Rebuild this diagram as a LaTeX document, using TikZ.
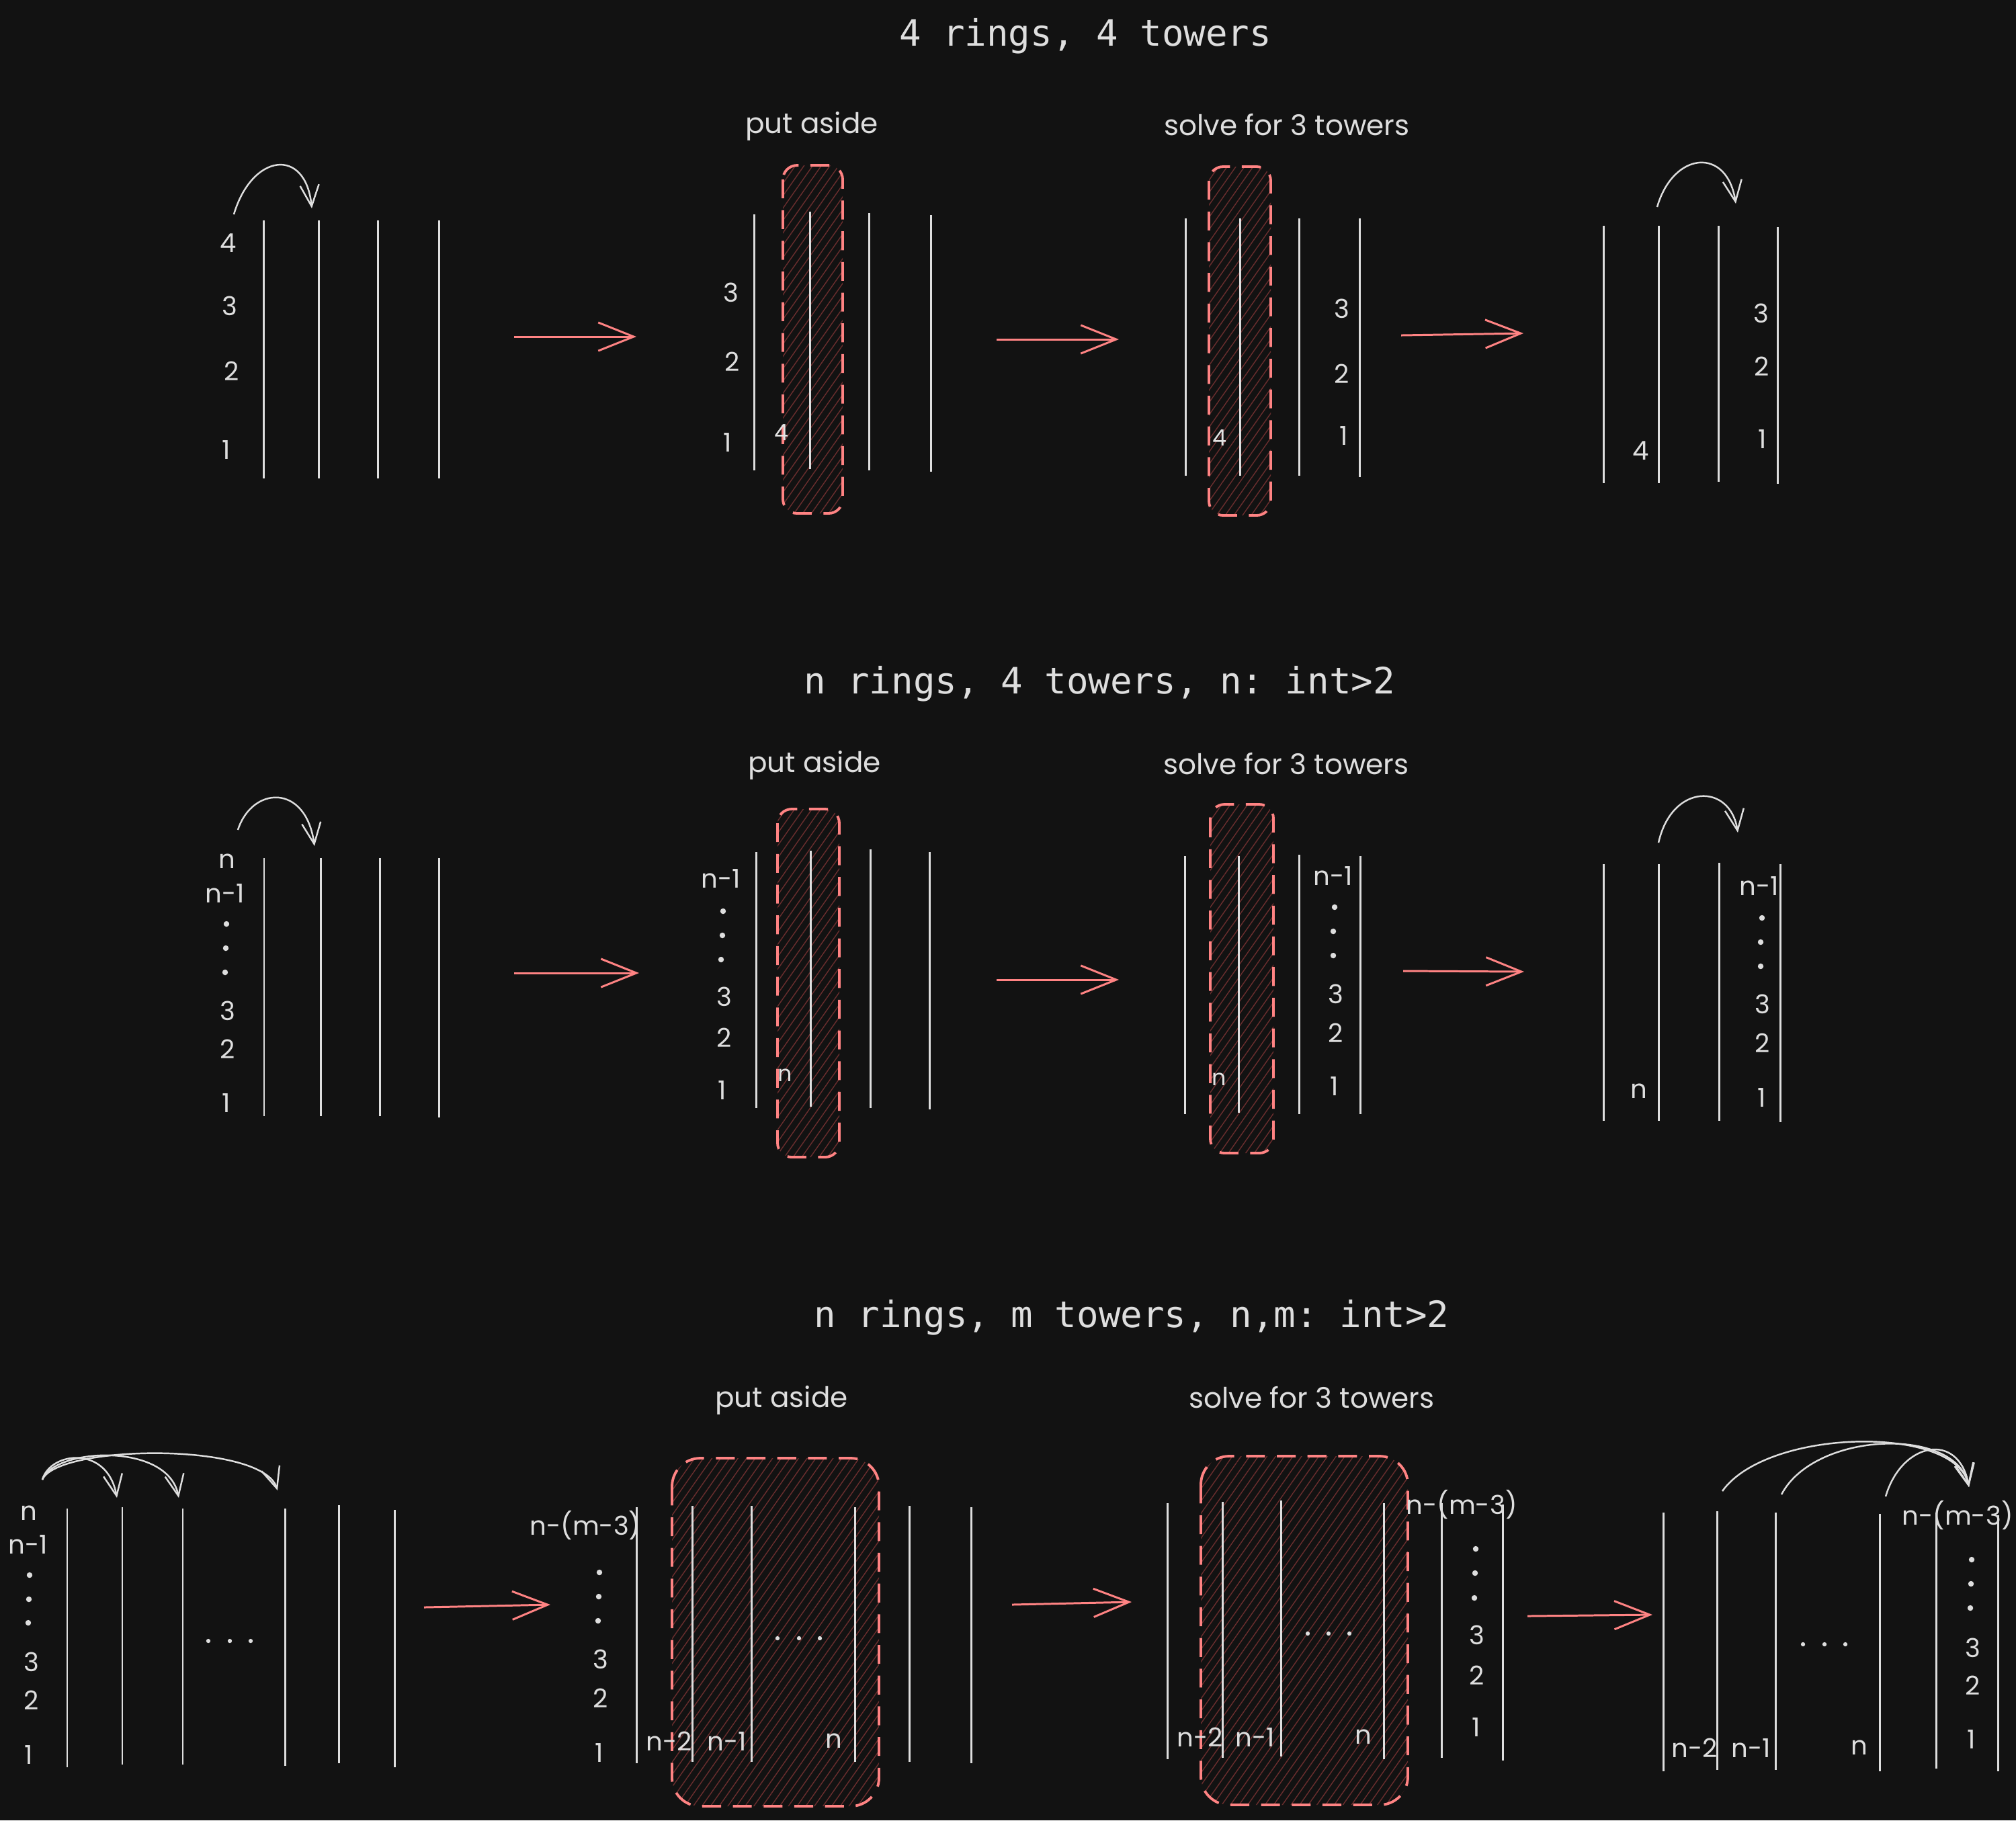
\documentclass[tikz,border=0pt]{standalone}
\usepackage{xcolor}
\usepackage{fontspec}
\setmonofont{DejaVu Sans Mono}
\newfontfamily\handfont{Poppins}
\usepackage{tikz}
\usetikzlibrary{arrows.meta, patterns.meta}

\definecolor{bgdark}{HTML}{121212}
\definecolor{ink}{HTML}{DEDEDE}
\definecolor{penred}{HTML}{FF8383}
\definecolor{hatchred}{HTML}{6A2E2E}

\begin{document}
\begin{tikzpicture}[
    x=1cm, y=-1cm, % 1 unit = 100px, y runs downwards
    title/.style={font=\ttfamily\fontsize{15.4}{18}\selectfont, text=ink, inner sep=0pt},
    caption/.style={font=\handfont\fontsize{12}{14}\selectfont, text=ink, inner sep=0pt},
    ring/.style={font=\handfont\fontsize{11}{13}\selectfont, text=ink, inner sep=0pt},
    ringin/.style={font=\handfont\fontsize{9.5}{11}\selectfont, text=ink!85, inner sep=0pt},
    ringdot/.style={circle, fill=ink, draw=none, inner sep=0pt, minimum size=2.4pt},
    gapdot/.style={circle, fill=ink, draw=none, inner sep=0pt, minimum size=1.8pt},
    tower/.style={draw=ink, line width=0.85pt},
    aside/.style={draw=penred, line width=1.1pt, dash pattern=on 8pt off 5pt,
        pattern={Lines[angle=55, distance=3pt, line width=0.4pt]}, pattern color=hatchred},
    move/.style={draw=penred, line width=0.85pt, -{Straight Barb[length=15pt, width=12pt]}},
    hop/.style={draw=ink, line width=0.7pt, -{Straight Barb[length=9pt, width=8pt]}}
]
\useasboundingbox (0,0) rectangle (30,27.09);
\fill[bgdark] (0,0) rectangle (30,27.09);

% ---------------- 4 rings, 4 towers
\node[title] (title-a) at (16.15,0.54) {4 rings, 4 towers};
\node[caption] (aside-a) at (12.08,1.88) {put aside};
\node[caption] (solve-a) at (19.15,1.86) {solve for 3 towers};

\draw[aside, rounded corners=6pt] (11.65,2.46) rectangle (12.54,7.64);
\draw[aside, rounded corners=6pt] (17.99,2.48) rectangle (18.91,7.67);

\draw[tower] (3.92,3.28) -- (3.92,7.12);
\draw[tower] (4.74,3.28) -- (4.74,7.12);
\draw[tower] (5.62,3.28) -- (5.62,7.12);
\draw[tower] (6.53,3.28) -- (6.53,7.12);
\draw[tower] (11.22,3.19) -- (11.22,7.00);
\draw[tower] (12.05,3.15) -- (12.05,6.98);
\draw[tower] (12.93,3.17) -- (12.93,7.00);
\draw[tower] (13.85,3.20) -- (13.85,7.02);
\draw[tower] (17.64,3.25) -- (17.64,7.08);
\draw[tower] (18.45,3.25) -- (18.45,7.08);
\draw[tower] (19.33,3.25) -- (19.33,7.08);
\draw[tower] (20.23,3.25) -- (20.23,7.10);
\draw[tower] (23.86,3.36) -- (23.86,7.19);
\draw[tower] (24.68,3.36) -- (24.68,7.19);
\draw[tower] (25.57,3.36) -- (25.57,7.17);
\draw[tower] (26.45,3.38) -- (26.45,7.20);

\node[ring] (a1-4) at (3.40,3.62) {4};
\node[ring] (a1-3) at (3.42,4.55) {3};
\node[ring] (a1-2) at (3.45,5.52) {2};
\node[ring] (a1-1) at (3.37,6.69) {1};
\node[ring] (a2-3) at (10.88,4.35) {3};
\node[ring] (a2-2) at (10.90,5.38) {2};
\node[ring] (a2-1) at (10.83,6.58) {1};
\node[ringin] (a2-4) at (11.63,6.44) {4};
\node[ring] (a3-3) at (19.97,4.59) {3};
\node[ring] (a3-2) at (19.97,5.56) {2};
\node[ring] (a3-1) at (20.00,6.48) {1};
\node[ringin] (a3-4) at (18.15,6.52) {4};
\node[ring] (a4-3) at (26.21,4.66) {3};
\node[ring] (a4-2) at (26.22,5.45) {2};
\node[ring] (a4-1) at (26.23,6.53) {1};
\node[ring] (a4-4) at (24.42,6.71) {4};

\coordinate (a-go1) at (7.65,5.01);  \coordinate (a-to1) at (9.47,5.01);
\coordinate (a-go2) at (14.83,5.05); \coordinate (a-to2) at (16.65,5.05);
\coordinate (a-go3) at (20.85,4.99); \coordinate (a-to3) at (22.67,4.96);
\coordinate (a-lift) at (3.48,3.19);   \coordinate (a-drop) at (4.64,3.10);
\coordinate (a-lift2) at (24.66,3.08); \coordinate (a-drop2) at (25.83,3.03);

% Edges
\draw[move] (a-go1) -- (a-to1);
\draw[move] (a-go2) -- (a-to2);
\draw[move] (a-go3) -- (a-to3);
\draw[hop] (a-lift) .. controls (3.75,2.28) and (4.55,2.18) .. (a-drop);
\draw[hop] (a-lift2) .. controls (24.90,2.25) and (25.70,2.18) .. (a-drop2);

% ---------------- n rings, 4 towers
\node[title] (title-b) at (16.36,10.18) {n rings, 4 towers, n: int>2};
\node[caption] (aside-b) at (12.12,11.39) {put aside};
\node[caption] (solve-b) at (19.14,11.37) {solve for 3 towers};

\draw[aside, rounded corners=6pt] (11.57,12.04) rectangle (12.49,17.22);
\draw[aside, rounded corners=6pt] (18.01,11.97) rectangle (18.95,17.16);

\draw[tower] (3.93,12.77) -- (3.93,16.61);
\draw[tower] (4.77,12.77) -- (4.77,16.61);
\draw[tower] (5.65,12.77) -- (5.65,16.61);
\draw[tower] (6.53,12.77) -- (6.53,16.63);
\draw[tower] (11.25,12.68) -- (11.25,16.49);
\draw[tower] (12.06,12.66) -- (12.06,16.47);
\draw[tower] (12.95,12.64) -- (12.95,16.49);
\draw[tower] (13.83,12.68) -- (13.83,16.51);
\draw[tower] (17.63,12.74) -- (17.63,16.58);
\draw[tower] (18.43,12.74) -- (18.43,16.56);
\draw[tower] (19.33,12.72) -- (19.33,16.58);
\draw[tower] (20.24,12.74) -- (20.24,16.58);
\draw[tower] (23.86,12.86) -- (23.86,16.68);
\draw[tower] (24.68,12.86) -- (24.68,16.68);
\draw[tower] (25.58,12.84) -- (25.58,16.68);
\draw[tower] (26.49,12.86) -- (26.49,16.70);

\node[ring] (b1-n) at (3.38,12.82) {n};
\node[ring] (b1-n1) at (3.35,13.29) {n-1};
\node[ringdot] (b1-d1) at (3.37,13.75) {};
\node[ringdot] (b1-d2) at (3.36,14.11) {};
\node[ringdot] (b1-d3) at (3.35,14.47) {};
\node[ring] (b1-3) at (3.39,15.04) {3};
\node[ring] (b1-2) at (3.39,15.61) {2};
\node[ring] (b1-1) at (3.37,16.41) {1};
\node[ring] (b2-n1) at (10.73,13.07) {n-1};
\node[ringdot] (b2-d1) at (10.76,13.56) {};
\node[ringdot] (b2-d2) at (10.75,13.92) {};
\node[ringdot] (b2-d3) at (10.73,14.28) {};
\node[ring] (b2-3) at (10.78,14.83) {3};
\node[ring] (b2-2) at (10.78,15.44) {2};
\node[ring] (b2-1) at (10.75,16.22) {1};
\node[ringin] (b2-n) at (11.68,16.00) {n};
\node[ring] (b3-n1) at (19.84,13.03) {n-1};
\node[ringdot] (b3-d1) at (19.86,13.50) {};
\node[ringdot] (b3-d2) at (19.84,13.86) {};
\node[ringdot] (b3-d3) at (19.84,14.22) {};
\node[ring] (b3-3) at (19.88,14.79) {3};
\node[ring] (b3-2) at (19.88,15.37) {2};
\node[ring] (b3-1) at (19.86,16.16) {1};
\node[ringin] (b3-n) at (18.14,16.06) {n};
\node[ring] (b4-n1) at (26.18,13.18) {n-1};
\node[ringdot] (b4-d1) at (26.22,13.66) {};
\node[ringdot] (b4-d2) at (26.20,14.02) {};
\node[ringdot] (b4-d3) at (26.20,14.38) {};
\node[ring] (b4-3) at (26.23,14.94) {3};
\node[ring] (b4-2) at (26.23,15.52) {2};
\node[ring] (b4-1) at (26.22,16.33) {1};
\node[ring] (b4-n) at (24.39,16.24) {n};

\coordinate (b-go1) at (7.65,14.48);  \coordinate (b-to1) at (9.51,14.48);
\coordinate (b-go2) at (14.83,14.58); \coordinate (b-to2) at (16.65,14.58);
\coordinate (b-go3) at (20.88,14.45); \coordinate (b-to3) at (22.68,14.46);
\coordinate (b-lift) at (3.54,12.35);   \coordinate (b-drop) at (4.68,12.59);
\coordinate (b-lift2) at (24.68,12.54); \coordinate (b-drop2) at (25.86,12.39);

% Edges
\draw[move] (b-go1) -- (b-to1);
\draw[move] (b-go2) -- (b-to2);
\draw[move] (b-go3) -- (b-to3);
\draw[hop] (b-lift) .. controls (3.75,11.70) and (4.55,11.65) .. (b-drop);
\draw[hop] (b-lift2) .. controls (24.88,11.65) and (25.75,11.65) .. (b-drop2);

% ---------------- n rings, m towers
\node[title] (title-c) at (16.84,19.61) {n rings, m towers, n,m: int>2};
\node[caption] (aside-c) at (11.63,20.84) {put aside};
\node[caption] (solve-c) at (19.52,20.80) {solve for 3 towers};

\draw[aside, rounded corners=12pt] (10.00,21.70) rectangle (13.08,26.88);
\draw[aside, rounded corners=12pt] (17.87,21.67) rectangle (20.95,26.86);

\draw[tower] (1.00,22.45) -- (1.00,26.30);
\draw[tower] (1.82,22.43) -- (1.82,26.26);
\draw[tower] (2.72,22.45) -- (2.72,26.26);
\draw[tower] (4.24,22.45) -- (4.24,26.28);
\draw[tower] (5.04,22.40) -- (5.04,26.24);
\draw[tower] (5.87,22.47) -- (5.87,26.30);
\draw[tower] (9.47,22.43) -- (9.47,26.24);
\draw[tower] (10.30,22.41) -- (10.30,26.22);
\draw[tower] (11.18,22.41) -- (11.18,26.22);
\draw[tower] (12.72,22.43) -- (12.72,26.22);
\draw[tower] (13.53,22.41) -- (13.53,26.22);
\draw[tower] (14.45,22.43) -- (14.45,26.24);
\draw[tower] (17.37,22.37) -- (17.37,26.18);
\draw[tower] (18.19,22.35) -- (18.19,26.16);
\draw[tower] (19.06,22.33) -- (19.06,26.14);
\draw[tower] (20.59,22.37) -- (20.59,26.18);
\draw[tower] (21.45,22.37) -- (21.45,26.16);
\draw[tower] (22.36,22.39) -- (22.36,26.20);
\draw[tower] (24.75,22.51) -- (24.75,26.36);
\draw[tower] (25.55,22.49) -- (25.55,26.34);
\draw[tower] (26.42,22.51) -- (26.42,26.34);
\draw[tower] (27.97,22.53) -- (27.97,26.36);
\draw[tower] (28.81,22.51) -- (28.81,26.32);
\draw[tower] (29.73,22.55) -- (29.73,26.36);

\node[ring] (c1-n) at (0.43,22.52) {n};
\node[ring] (c1-n1) at (0.42,22.98) {n-1};
\node[ringdot] (c1-d1) at (0.44,23.44) {};
\node[ringdot] (c1-d2) at (0.43,23.80) {};
\node[ringdot] (c1-d3) at (0.42,24.15) {};
\node[ring] (c1-3) at (0.47,24.73) {3};
\node[ring] (c1-2) at (0.47,25.30) {2};
\node[ring] (c1-1) at (0.43,26.11) {1};
\node[gapdot] (c1-g1) at (3.10,24.42) {};
\node[gapdot] (c1-g2) at (3.42,24.42) {};
\node[gapdot] (c1-g3) at (3.73,24.42) {};

\node[ring] (c2-top) at (8.71,22.70) {n-(m-3)};
\node[ringdot] (c2-d1) at (8.92,23.40) {};
\node[ringdot] (c2-d2) at (8.91,23.76) {};
\node[ringdot] (c2-d3) at (8.90,24.12) {};
\node[ring] (c2-3) at (8.94,24.69) {3};
\node[ring] (c2-2) at (8.94,25.27) {2};
\node[ring] (c2-1) at (8.92,26.08) {1};
\node[ring] (c2-n2) at (9.96,25.91) {n-2};
\node[ring] (c2-n1) at (10.82,25.91) {n-1};
\node[ring] (c2-n) at (12.41,25.91) {n};
\node[gapdot] (c2-g1) at (11.57,24.38) {};
\node[gapdot] (c2-g2) at (11.89,24.38) {};
\node[gapdot] (c2-g3) at (12.20,24.38) {};

\node[ring] (c3-top) at (21.75,22.39) {n-(m-3)};
\node[ringdot] (c3-d1) at (21.96,23.05) {};
\node[ringdot] (c3-d2) at (21.95,23.41) {};
\node[ringdot] (c3-d3) at (21.94,23.78) {};
\node[ring] (c3-3) at (21.98,24.33) {3};
\node[ring] (c3-2) at (21.98,24.93) {2};
\node[ring] (c3-1) at (21.97,25.70) {1};
\node[ring] (c3-n2) at (17.86,25.85) {n-2};
\node[ring] (c3-n1) at (18.68,25.85) {n-1};
\node[ring] (c3-n) at (20.29,25.85) {n};
\node[gapdot] (c3-g1) at (19.46,24.31) {};
\node[gapdot] (c3-g2) at (19.77,24.31) {};
\node[gapdot] (c3-g3) at (20.08,24.31) {};

\node[ring] (c4-top) at (29.13,22.55) {n-(m-3)};
\node[ringdot] (c4-d1) at (29.34,23.21) {};
\node[ringdot] (c4-d2) at (29.33,23.57) {};
\node[ringdot] (c4-d3) at (29.32,23.93) {};
\node[ring] (c4-3) at (29.36,24.52) {3};
\node[ring] (c4-2) at (29.36,25.08) {2};
\node[ring] (c4-1) at (29.34,25.88) {1};
\node[ring] (c4-n2) at (25.22,26.01) {n-2};
\node[ring] (c4-n1) at (26.06,26.01) {n-1};
\node[ring] (c4-n) at (27.67,26.01) {n};
\node[gapdot] (c4-g1) at (26.83,24.47) {};
\node[gapdot] (c4-g2) at (27.15,24.47) {};
\node[gapdot] (c4-g3) at (27.46,24.47) {};

\coordinate (c-go1) at (6.31,23.92);  \coordinate (c-to1) at (8.19,23.88);
\coordinate (c-go2) at (15.06,23.88); \coordinate (c-to2) at (16.84,23.84);
\coordinate (c-go3) at (22.73,24.05); \coordinate (c-to3) at (24.59,24.03);
\coordinate (c-lift) at (0.63,22.02);
\coordinate (c-drop1) at (1.74,22.29);
\coordinate (c-drop2) at (2.66,22.29);
\coordinate (c-drop3) at (4.13,22.18);
\coordinate (c-lift1) at (25.63,22.19);
\coordinate (c-lift2) at (26.51,22.24);
\coordinate (c-lift3) at (28.06,22.27);
\coordinate (c-drop) at (29.30,22.13);

% Edges
\draw[move] (c-go1) -- (c-to1);
\draw[move] (c-go2) -- (c-to2);
\draw[move] (c-go3) -- (c-to3);
\draw[hop] (c-lift) .. controls (0.75,21.60) and (1.60,21.50) .. (c-drop1);
\draw[hop] (c-lift) .. controls (0.80,21.55) and (2.50,21.45) .. (c-drop2);
\draw[hop] (c-lift) .. controls (0.85,21.50) and (3.90,21.45) .. (c-drop3);
\draw[hop] (c-lift1) .. controls (26.30,21.25) and (29.10,21.20) .. (c-drop);
\draw[hop] (c-lift2) .. controls (27.00,21.30) and (29.10,21.22) .. (c-drop);
\draw[hop] (c-lift3) .. controls (28.30,21.45) and (29.15,21.30) .. (c-drop);

\end{tikzpicture}
\end{document}
